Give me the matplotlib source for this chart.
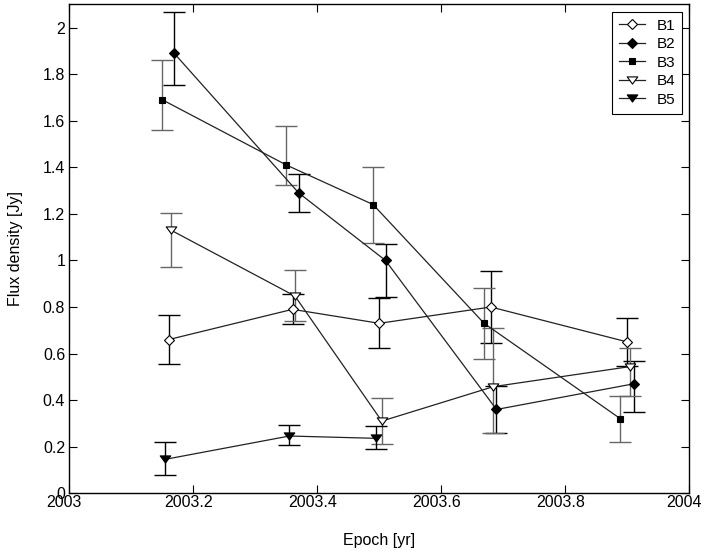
import matplotlib
matplotlib.use("Agg")
import matplotlib.pyplot as plt
from matplotlib.ticker import FuncFormatter, MultipleLocator
from matplotlib.transforms import ScaledTranslation
from matplotlib.path import Path

plt.rcParams['font.family'] = ['Liberation Sans', 'DejaVu Sans']

# ---- data ----
b1_x = [2003.160, 2003.360, 2003.500, 2003.680, 2003.900]
b1_y = [0.66, 0.79, 0.73, 0.80, 0.65]
b1_lo = [0.105, 0.064, 0.107, 0.154, 0.103]
b1_hi = [0.105, 0.064, 0.107, 0.154, 0.103]

b2_x = [2003.169, 2003.370, 2003.510, 2003.689, 2003.910]
b2_y = [1.89, 1.29, 1.00, 0.36, 0.47]
b2_lo = [0.137, 0.082, 0.157, 0.10, 0.122]
b2_hi = [0.178, 0.082, 0.072, 0.10, 0.10]

b3_x = [2003.150, 2003.350, 2003.490, 2003.669, 2003.889]
b3_y = [1.69, 1.41, 1.24, 0.73, 0.32]
b3_lo = [0.13, 0.085, 0.163, 0.155, 0.10]
b3_hi = [0.172, 0.166, 0.161, 0.153, 0.10]

b4_x = [2003.164, 2003.364, 2003.504, 2003.684, 2003.904]
b4_y = [1.13, 0.847, 0.31, 0.458, 0.544]
b4_lo = [0.16, 0.105, 0.10, 0.20, 0.126]
b4_hi = [0.075, 0.111, 0.10, 0.253, 0.081]

b5_x = [2003.155, 2003.355, 2003.495]
b5_y = [0.146, 0.246, 0.236]
b5_lo = [0.066, 0.039, 0.047]
b5_hi = [0.074, 0.046, 0.053]

labels = ['B1', 'B2', 'B3', 'B4', 'B5']
x_ticks = [2003, 2003.2, 2003.4, 2003.6, 2003.8, 2004]

fig = plt.figure(figsize=(7.18, 5.56), dpi=100)
ax = fig.add_axes([69.3/718, 62.7/556, 620/718, 489/556])

tri = Path([(-1, 0.68), (1, 0.68), (0, -0.68), (-1, 0.68)],
           [Path.MOVETO, Path.LINETO, Path.LINETO, Path.CLOSEPOLY])

series = [
    (b1_x, b1_y, b1_lo, b1_hi, 'D', 'white', 4.6, 'black'),
    (b2_x, b2_y, b2_lo, b2_hi, 'D', 'black', 4.6, 'black'),
    (b3_x, b3_y, b3_lo, b3_hi, 's', 'black', 5.0, '#666666'),
    (b4_x, b4_y, b4_lo, b4_hi, tri, 'white', 7.6, '#666666'),
    (b5_x, b5_y, b5_lo, b5_hi, tri, 'black', 7.6, 'black'),
]

for (x, y, lo, hi, m, fc, ms, ec), lab in zip(series, labels):
    ax.errorbar(x, y, yerr=[lo, hi], fmt='none', ecolor=ec, elinewidth=1.0,
                capsize=8, capthick=1.0, zorder=2)
    ax.plot(x, y, '-', color='#222222', lw=0.9, marker=m, markersize=ms,
            markerfacecolor=fc, markeredgecolor='black', markeredgewidth=0.8,
            label=lab, zorder=3)

ax.set_xlim(2003, 2004)
ax.set_ylim(0, 2.1)
ax.set_xticks(x_ticks)
ax.yaxis.set_major_locator(MultipleLocator(0.2))
fmt = FuncFormatter(lambda v, p: '%g' % round(v, 4))
ax.xaxis.set_major_formatter(fmt)
ax.yaxis.set_major_formatter(fmt)
ax.tick_params(direction='in', length=6, width=0.8, top=True, right=True,
               labelsize=11.5)
ax.tick_params(axis='x', pad=1.5)
ax.tick_params(axis='y', pad=3)
for s in ax.spines.values():
    s.set_linewidth(1.0)

shift = ScaledTranslation(-5/100, 0, fig.dpi_scale_trans)
for lbl in ax.get_xticklabels():
    lbl.set_transform(lbl.get_transform() + shift)

ax.set_xlabel('Epoch [yr]', fontsize=11.5, labelpad=16.5)
ax.set_ylabel('Flux density [Jy]', fontsize=11.5, labelpad=14.5)

leg = ax.legend(loc='upper right', bbox_to_anchor=(0.9887, 0.985),
                fontsize=11, frameon=True, fancybox=False,
                edgecolor='black', framealpha=1, borderpad=0.45,
                labelspacing=0.3, handlelength=1.7, handletextpad=0.75,
                borderaxespad=0)
leg.get_frame().set_linewidth(0.8)

fig.savefig('out.png', dpi=100)
